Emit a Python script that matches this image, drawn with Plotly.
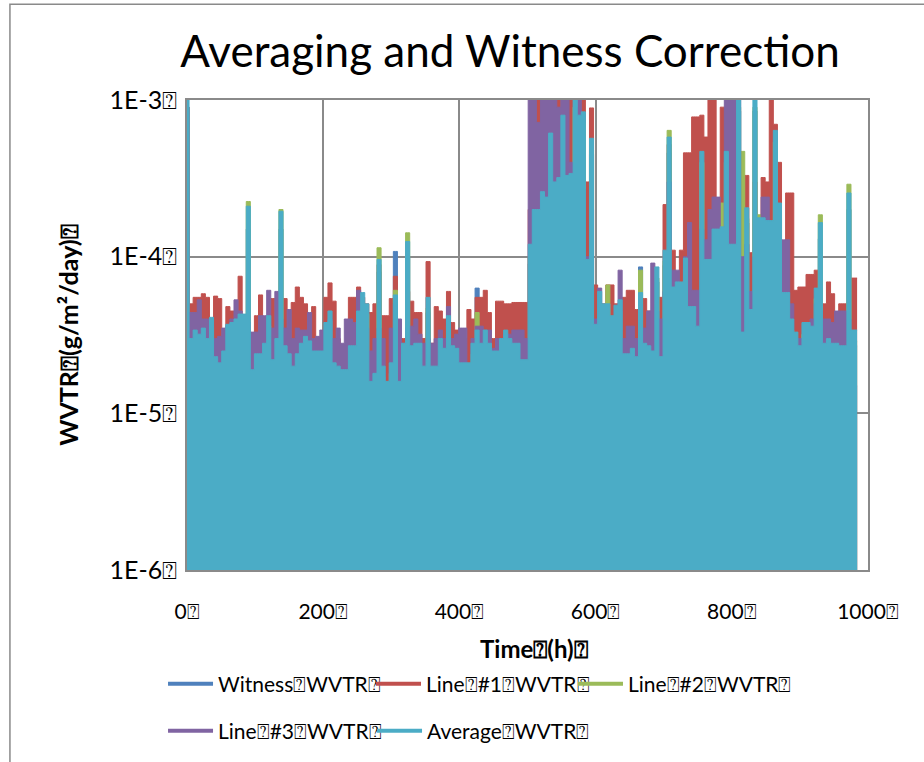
import plotly.graph_objects as go

# Sampling times (h), one reading every 6 h
hours = list(range(0, 985, 6))

# WVTR readings in units of 1e-6 g/m²/day
witness_wvtr = [
    900, 25, 26, 26, 28, 25, 30, 18, 17, 20,
    30, 30, 32, 35, 35, 150, 15, 19, 19, 22,
    34, 18, 24, 150, 22, 19, 16, 19, 22, 25,
    23, 20, 20, 20, 30, 36, 17, 16, 15, 15,
    22, 22, 36, 47, 40, 13, 14, 80, 16, 13,
    17, 108, 13, 22, 100, 22, 22, 22, 16, 44,
    16, 16, 24, 21, 34, 22, 21, 17, 17, 17,
    22, 63, 22, 27, 22, 20, 20, 24, 27, 24,
    22, 22, 18, 18, 90, 150, 150, 200, 180, 480,
    230, 250, 600, 260, 270, 800, 600, 650, 75, 450,
    30, 48, 40, 40, 34, 40, 42, 19, 19, 21,
    18, 86, 22, 22, 20, 69, 18, 88, 460, 51,
    55, 55, 78, 38, 38, 29, 380, 77, 77, 120,
    120, 124, 380, 96, 96, 850, 26, 164, 37, 850,
    140, 140, 136, 136, 510, 176, 47, 47, 32, 26,
    22, 30, 30, 29, 50, 130, 22, 24, 22, 22,
    22, 22, 200, 27, 27,
]

line1_wvtr = [
    900, 50, 55, 55, 58, 55, 28, 56, 54, 30,
    48, 45, 40, 75, 30, 40, 25, 42, 57, 30,
    40, 54, 30, 50, 54, 30, 51, 64, 55, 50,
    30, 48, 25, 28, 55, 68, 52, 30, 25, 25,
    55, 55, 64, 55, 50, 44, 50, 89, 42, 42,
    54, 75, 30, 30, 60, 52, 44, 44, 30, 93,
    28, 48, 45, 40, 60, 38, 34, 26, 30, 46,
    40, 55, 55, 61, 44, 30, 52, 52, 50, 50,
    51, 51, 51, 51, 200, 400, 1200, 1200, 1200, 500,
    1200, 1200, 900, 1200, 1200, 800, 500, 1200, 300, 890,
    66, 45, 50, 66, 66, 50, 30, 55, 61, 61,
    46, 50, 54, 45, 45, 50, 55, 215, 520, 110,
    60, 110, 460, 460, 780, 780, 800, 580, 1200, 1200,
    60, 900, 900, 400, 200, 200, 100, 330, 106, 300,
    100, 320, 300, 1200, 700, 400, 100, 255, 255, 61,
    64, 64, 77, 77, 82, 60, 50, 69, 58, 40,
    50, 50, 50, 73, 73,
]

line2_wvtr = [
    900, 26, 28, 28, 30, 26, 35, 20, 18, 22,
    32, 33, 34, 37, 37, 225, 16, 20, 20, 24,
    36, 19, 26, 200, 23, 20, 17, 20, 24, 27,
    25, 21, 21, 21, 33, 39, 18, 17, 16, 16,
    23, 23, 39, 50, 43, 14, 15, 114, 17, 14,
    18, 61, 14, 24, 142, 23, 24, 24, 17, 47,
    17, 17, 26, 22, 36, 23, 22, 18, 18, 18,
    24, 44, 24, 29, 24, 21, 21, 26, 29, 26,
    24, 24, 19, 19, 100, 170, 170, 220, 200, 520,
    250, 270, 890, 280, 290, 900, 680, 710, 80, 480,
    32, 50, 43, 66, 36, 42, 45, 20, 20, 22,
    20, 82, 24, 23, 21, 73, 20, 94, 640, 54,
    59, 59, 83, 41, 41, 31, 400, 82, 82, 128,
    128, 220, 400, 102, 102, 900, 470, 175, 39, 900,
    185, 150, 145, 145, 540, 187, 50, 50, 34, 28,
    23, 32, 32, 31, 54, 185, 24, 26, 24, 24,
    23, 23, 290, 29, 29,
]

line3_wvtr = [
    900, 44, 44, 53, 40, 40, 36, 30, 31, 35,
    36, 40, 53, 45, 38, 38, 33, 33, 42, 42,
    61, 35, 60, 40, 35, 46, 30, 35, 34, 34,
    44, 30, 31, 34, 34, 40, 30, 35, 28, 40,
    40, 38, 61, 45, 35, 25, 30, 35, 30, 15,
    35, 50, 40, 28, 35, 36, 40, 32, 28, 30,
    28, 30, 34, 30, 48, 30, 32, 35, 35, 20,
    30, 36, 36, 34, 34, 26, 30, 30, 32, 32,
    34, 34, 34, 30, 1200, 1200, 720, 1200, 1200, 1200,
    1200, 900, 1200, 1200, 400, 300, 1200, 270, 100, 200,
    40, 63, 45, 40, 40, 40, 82, 30, 36, 36,
    30, 50, 35, 45, 91, 45, 40, 60, 300, 82,
    82, 60, 100, 165, 61, 61, 150, 128, 200, 240,
    240, 130, 1200, 1000, 1100, 1200, 100, 120, 60, 100,
    90, 240, 240, 100, 90, 128, 128, 128, 50, 30,
    30, 30, 30, 40, 50, 45, 40, 40, 38, 45,
    45, 45, 40, 30, 15,
]

average_wvtr = [
    1050, 30, 34, 32, 35, 30, 41, 23, 21, 25,
    37, 38, 40, 43, 43, 210, 19, 24, 24, 28,
    42, 22, 30, 195, 27, 24, 20, 24, 28, 31,
    29, 25, 25, 25, 38, 45, 21, 20, 19, 19,
    27, 27, 45, 59, 50, 16, 18, 96, 20, 16,
    21, 57, 16, 28, 125, 27, 28, 28, 20, 55,
    20, 20, 30, 26, 42, 27, 26, 21, 21, 21,
    28, 34, 28, 34, 28, 25, 25, 30, 34, 30,
    28, 28, 22, 22, 120, 200, 200, 260, 240, 615,
    300, 320, 800, 330, 340, 1100, 800, 840, 96, 570,
    37, 60, 50, 50, 42, 49, 53, 24, 24, 26,
    23, 59, 28, 27, 25, 86, 23, 110, 580, 64,
    69, 69, 98, 48, 48, 36, 470, 96, 96, 150,
    150, 155, 470, 120, 120, 1100, 33, 205, 46, 1100,
    177, 177, 170, 170, 640, 220, 59, 59, 40, 33,
    27, 38, 38, 36, 63, 165, 28, 30, 28, 28,
    27, 27, 255, 34, 34,
]

BOX = "\u2370"
series_names = [
    "Witness" + BOX + "WVTR" + BOX,
    "Line" + BOX + "#1" + BOX + "WVTR" + BOX,
    "Line" + BOX + "#2" + BOX + "WVTR" + BOX,
    "Line" + BOX + "#3" + BOX + "WVTR" + BOX,
    "Average" + BOX + "WVTR" + BOX,
]
series_values = [witness_wvtr, line1_wvtr, line2_wvtr, line3_wvtr, average_wvtr]
series_colors = ["#4F81BD", "#C0504D", "#9BBB59", "#8064A2", "#4BACC6"]

# one legend box per entry: (x, y) in paper units
legend_ids = ["legend", "legend2", "legend3", "legend4", "legend5"]
legend_spots = [(-0.0352, -0.24), (0.2702, -0.24), (0.5668, -0.24),
                (-0.0352, -0.34), (0.2717, -0.34)]

x_tick_vals = [0, 200, 400, 600, 800, 1000]
x_tick_text = [str(v) + BOX for v in x_tick_vals]
y_tick_vals = [1e-6, 1e-5, 1e-4, 1e-3]
y_tick_text = ["1E-6" + BOX, "1E-5" + BOX, "1E-4" + BOX, "1E-3" + BOX]

FONT = "Lato, 'DejaVu Sans', sans-serif"
GRID = "#8A8A8A"

fig = go.Figure()

for name, vals, color in zip(series_names, series_values, series_colors):
    fig.add_trace(go.Scatter(
        x=hours,
        y=[v * 1e-6 for v in vals],
        mode="lines",
        line=dict(color=color, width=1, shape="hvh"),
        fill="tozeroy",
        fillcolor=color,
        showlegend=False,
        hoverinfo="skip",
    ))

# legend keys
for name, color, lid in zip(series_names, series_colors, legend_ids):
    fig.add_trace(go.Scatter(
        x=[None], y=[None], mode="lines",
        line=dict(color=color, width=4),
        name=name, legend=lid,
    ))

legend_layout = {}
for lid, (lx, ly) in zip(legend_ids, legend_spots):
    legend_layout[lid] = dict(
        orientation="h",
        xanchor="left",
        yanchor="middle",
        x=lx,
        y=ly,
        itemwidth=45,
        font=dict(family=FONT, size=21, color="#000000"),
        bgcolor="rgba(0,0,0,0)",
    )

fig.update_layout(
    width=924,
    height=762,
    autosize=False,
    paper_bgcolor="#FFFFFF",
    plot_bgcolor="#FFFFFF",
    margin=dict(l=187, r=56, t=100, b=191),
    title=dict(
        text="Averaging and Witness Correction",
        font=dict(family=FONT, size=44, color="#000000"),
        x=0.552, xanchor="center",
        y=0.932, yanchor="middle",
    ),
    xaxis=dict(
        range=[0, 1000],
        tickvals=x_tick_vals,
        ticktext=x_tick_text,
        showgrid=True,
        gridcolor=GRID,
        gridwidth=1.5,
        showline=True,
        linecolor=GRID,
        linewidth=1.5,
        mirror=True,
        zeroline=False,
        ticks="",
        ticklabelstandoff=22,
        tickfont=dict(family=FONT, size=21, color="#000000"),
    ),
    yaxis=dict(
        type="log",
        range=[-6, -3],
        tickvals=y_tick_vals,
        ticktext=y_tick_text,
        showgrid=True,
        gridcolor=GRID,
        gridwidth=1.5,
        showline=True,
        linecolor=GRID,
        linewidth=1.5,
        mirror=True,
        zeroline=False,
        ticks="",
        ticklabelstandoff=3,
        tickfont=dict(family=FONT, size=25, color="#000000"),
    ),
    annotations=[
        dict(
            text="<b>Time" + BOX + "(h)" + BOX + "</b>",
            xref="paper", yref="paper",
            x=0.51, y=-0.168, xanchor="center", yanchor="middle",
            showarrow=False,
            font=dict(family=FONT, size=24, color="#000000"),
        ),
        dict(
            text="<b>WVTR" + BOX + "(g/m²/day)" + BOX + "</b>",
            xref="paper", yref="paper",
            x=-0.175, y=0.5, xanchor="center", yanchor="middle",
            textangle=-90,
            showarrow=False,
            font=dict(family=FONT, size=25, color="#000000"),
        ),
    ],
    shapes=[
        dict(
            type="rect", xref="paper", yref="paper",
            x0=-0.26, x1=1.3, y0=-0.45, y1=1.2038,
            line=dict(color=GRID, width=1.5),
            fillcolor="rgba(0,0,0,0)",
            layer="below",
        ),
    ],
    **legend_layout,
)

fig.write_html("out.html")
